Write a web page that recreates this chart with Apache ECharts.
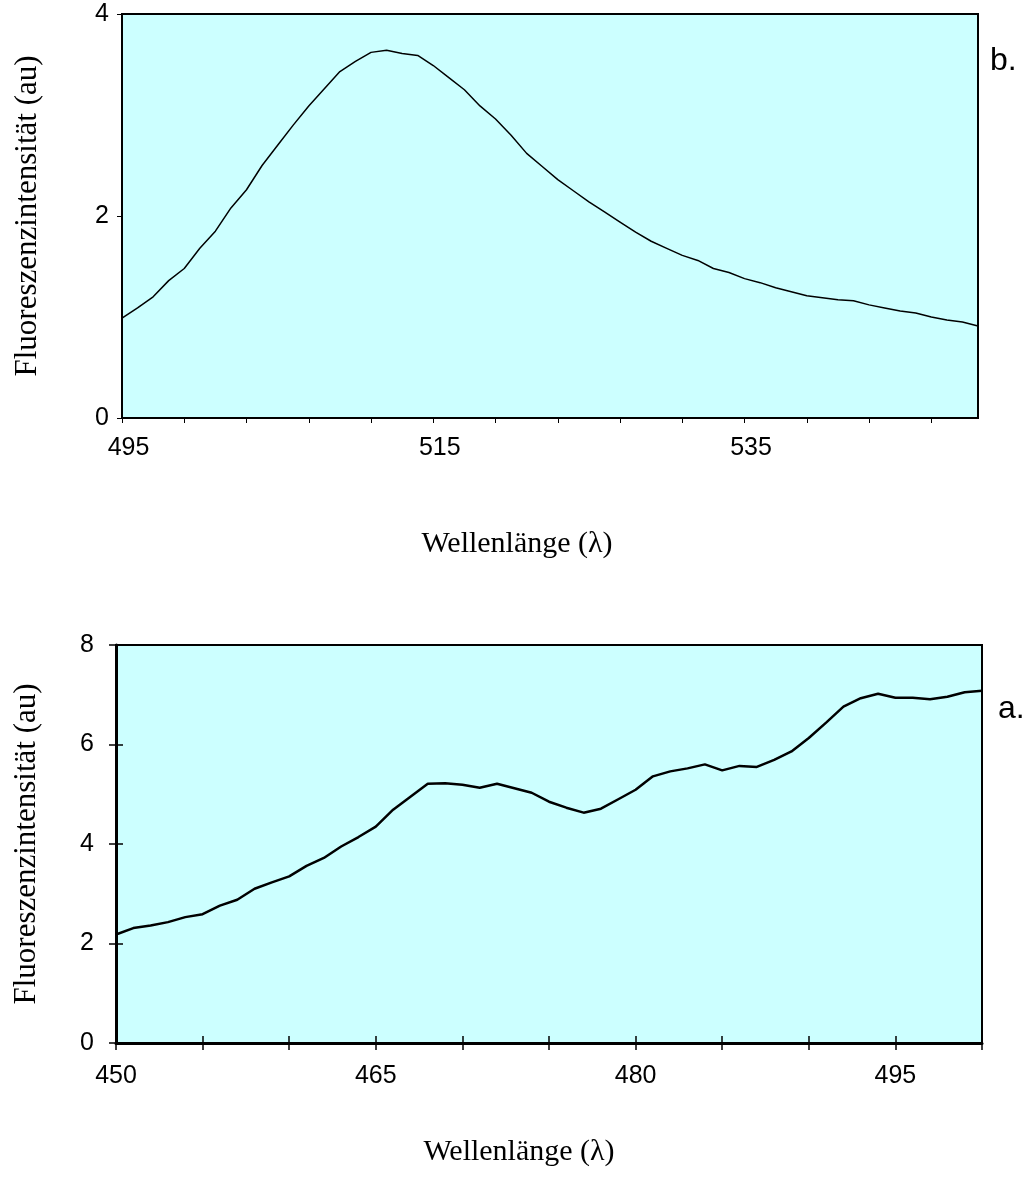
<!DOCTYPE html>
<html>
<head>
<meta charset="utf-8">
<title>Fluoreszenzspektren</title>
<script src="https://cdn.jsdelivr.net/npm/echarts/dist/echarts.min.js"></script>
<style>
    html, body { margin: 0; padding: 0; background: #fff; }
    #main { width: 1033px; height: 1182px; }
</style>
</head>
<body>
<div id="main"></div>
<script>
// b. oben: Wellenlaenge 495..550 nm
var lambdaB = [495, 496, 497, 498, 499, 500, 501, 502, 503, 504, 505, 506, 507, 508,
    509, 510, 511, 512, 513, 514, 515, 516, 517, 518, 519, 520, 521, 522,
    523, 524, 525, 526, 527, 528, 529, 530, 531, 532, 533, 534, 535, 536,
    537, 538, 539, 540, 541, 542, 543, 544, 545, 546, 547, 548, 549, 550]
var intensB = [0.99, 1.09, 1.20, 1.36, 1.48, 1.68, 1.85, 2.08, 2.26, 2.50, 2.70, 2.90, 3.09, 3.26,
    3.43, 3.53, 3.62, 3.64, 3.61, 3.59, 3.49, 3.37, 3.25, 3.09, 2.96, 2.80, 2.62, 2.49,
    2.36, 2.25, 2.14, 2.04, 1.94, 1.84, 1.75, 1.68, 1.61, 1.56, 1.48, 1.44, 1.38, 1.34,
    1.29, 1.25, 1.21, 1.19, 1.17, 1.16, 1.12, 1.09, 1.06, 1.04, 1.00, 0.97, 0.95, 0.91]

// a. unten: Wellenlaenge 450..500 nm
var lambdaA = [450, 451, 452, 453, 454, 455, 456, 457, 458, 459, 460, 461, 462, 463,
    464, 465, 466, 467, 468, 469, 470, 471, 472, 473, 474, 475, 476, 477,
    478, 479, 480, 481, 482, 483, 484, 485, 486, 487, 488, 489, 490, 491,
    492, 493, 494, 495, 496, 497, 498, 499, 500]
var intensA = [2.18, 2.31, 2.36, 2.43, 2.53, 2.59, 2.76, 2.88, 3.10, 3.23, 3.35, 3.56, 3.72, 3.95,
    4.14, 4.35, 4.69, 4.95, 5.21, 5.22, 5.19, 5.13, 5.21, 5.12, 5.03, 4.85, 4.73, 4.63,
    4.71, 4.90, 5.09, 5.36, 5.46, 5.52, 5.60, 5.48, 5.57, 5.55, 5.69, 5.86, 6.13, 6.44,
    6.76, 6.93, 7.02, 6.94, 6.94, 6.91, 6.96, 7.05, 7.08]

var yTicksB = [0, 4, 2]   // min, max, interval
var yTicksA = [0, 8, 2]

var sans = 'Liberation Sans'
var serif = 'Liberation Serif'
var yTitle = 'Fluoreszenzintensität (au)'
var xTitle = 'Wellenlänge (λ)'

var myChart = echarts.init(document.getElementById('main'))

var option = {
    animation: false,
    grid: [
        {left: 122, top: 14, width: 856, height: 404, show: true,
            backgroundColor: '#CCFFFF', borderColor: '#000', borderWidth: 2},
        {left: 116, top: 645, width: 866, height: 398, show: true,
            backgroundColor: '#CCFFFF', borderColor: '#000', borderWidth: 2}
    ],
    xAxis: [
        {   // b.
            type: 'category', gridIndex: 0, position: 'bottom', data: lambdaB, boundaryGap: false,
            axisLine: {lineStyle: {color: '#000', width: 2}},
            axisTick: {interval: 3, length: 5, lineStyle: {color: '#000', width: 1}},
            axisLabel: {interval: 19, margin: 18, padding: [0, 0, 0, 13],
                color: '#000', fontFamily: sans, fontSize: 25},
            splitLine: {show: false}
        },
        {   // a.
            type: 'category', gridIndex: 1, position: 'bottom', data: lambdaA, boundaryGap: false,
            axisLine: {lineStyle: {color: '#000', width: 3}},
            axisTick: {interval: 4, inside: true, length: 7, lineStyle: {color: '#000', width: 1.5}},
            axisLabel: {interval: 14, margin: 21,
                color: '#000', fontFamily: sans, fontSize: 25},
            splitLine: {show: false}
        },
        {   // a. Strich nach aussen (Kreuz-Ticks)
            type: 'category', gridIndex: 1, position: 'bottom', data: lambdaA, boundaryGap: false,
            axisLine: {show: false},
            axisTick: {interval: 4, length: 7, lineStyle: {color: '#000', width: 1.5}},
            axisLabel: {show: false},
            splitLine: {show: false}
        }
    ],
    yAxis: [
        {
            type: 'value', gridIndex: 0, position: 'left',
            min: yTicksB[0], max: yTicksB[1], interval: yTicksB[2],
            name: yTitle, nameLocation: 'middle', nameGap: 79,
            nameTextStyle: {color: '#000', fontFamily: serif, fontSize: 31},
            axisLine: {show: true, lineStyle: {color: '#000', width: 2}},
            axisTick: {show: true, length: 5, lineStyle: {color: '#000', width: 1}},
            axisLabel: {margin: 13, color: '#000', fontFamily: sans, fontSize: 25},
            splitLine: {show: false}
        },
        {
            type: 'value', gridIndex: 1, position: 'left',
            min: yTicksA[0], max: yTicksA[1], interval: yTicksA[2],
            name: yTitle, nameLocation: 'middle', nameGap: 74,
            nameTextStyle: {color: '#000', fontFamily: serif, fontSize: 31},
            axisLine: {show: true, lineStyle: {color: '#000', width: 3}},
            axisTick: {show: true, inside: true, length: 7, lineStyle: {color: '#000', width: 1.5}},
            axisLabel: {margin: 22, color: '#000', fontFamily: sans, fontSize: 25},
            splitLine: {show: false}
        },
        {
            type: 'value', gridIndex: 1, position: 'left',
            min: yTicksA[0], max: yTicksA[1], interval: yTicksA[2],
            axisLine: {show: false},
            axisTick: {show: true, length: 7, lineStyle: {color: '#000', width: 1.5}},
            axisLabel: {show: false},
            splitLine: {show: false}
        }
    ],
    series: [
        {
            name: 'b', type: 'line', xAxisIndex: 0, yAxisIndex: 0, data: intensB,
            symbol: 'none', lineStyle: {color: '#000', width: 1.5}
        },
        {
            name: 'a', type: 'line', xAxisIndex: 1, yAxisIndex: 1, data: intensA,
            symbol: 'none', lineStyle: {color: '#000', width: 2.5}
        }
    ],
    graphic: [
        {type: 'text', x: 517, y: 544, style: {text: xTitle, fill: '#000',
            font: '30px "Liberation Serif"', textAlign: 'center', textVerticalAlign: 'middle'}},
        {type: 'text', x: 519, y: 1152, style: {text: xTitle, fill: '#000',
            font: '30px "Liberation Serif"', textAlign: 'center', textVerticalAlign: 'middle'}},
        {type: 'text', x: 990, y: 61, style: {text: 'b.', fill: '#000',
            font: '32px "Liberation Sans"', textAlign: 'left', textVerticalAlign: 'middle'}},
        {type: 'text', x: 998, y: 709, style: {text: 'a.', fill: '#000',
            font: '32px "Liberation Sans"', textAlign: 'left', textVerticalAlign: 'middle'}}
    ]
}
myChart.setOption(option)
</script>
</body>
</html>
